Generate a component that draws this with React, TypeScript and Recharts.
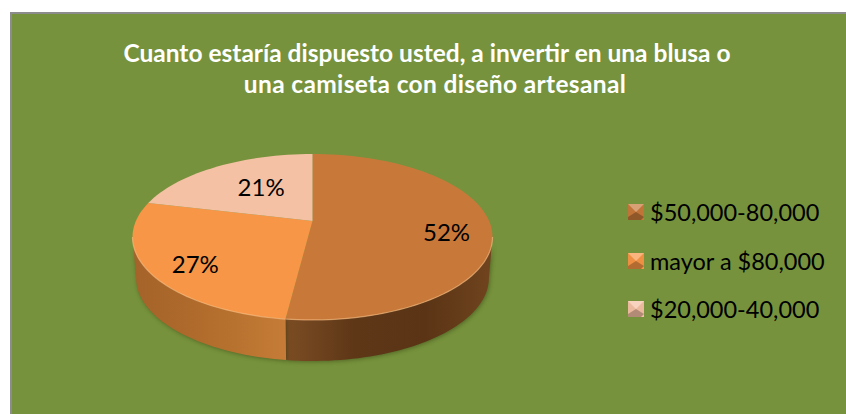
import { PieChart, Pie, Legend } from 'recharts';

const titleLines = [
  'Cuanto estaría dispuesto usted, a invertir en una blusa o',
  'una camiseta con diseño artesanal',
];
const categories = ['$50,000-80,000', 'mayor a $80,000', '$20,000-40,000'];
const seriesValues = [52, 27, 21];
const sliceColors = ['#C8793A', '#F79646', '#F5C1A4'];
const wallStops = [
  ['#70441E', '#5A3415', '#5E3717', '#7C4D24'],
  ['#C67C38', '#B8722F', '#AD692B', '#A5632A'],
  ['#D9A68A', '#D9A68A', '#D9A68A', '#D9A68A'],
];
// how far out from the pie's apex each percent label sits, and a small vertical nudge
const labelReach = [0.75, 0.72, 0.54];
const labelNudge = [6, 6, -5];

const pieData = categories.map((name, i) => ({
  name,
  value: seriesValues[i],
  fill: sliceColors[i],
}));

const FONT = 'Lato, "Open Sans", sans-serif';
const TILT = 0.461; // ellipse height / width of the 3D pie
const DEPTH = 41;
const APEX_SHIFT = 0.193; // apex sits above the ellipse centre because of the perspective
const MOBIUS = 0.09;

// moves an angle on the pie to where the perspective puts it on the rim
const warpAngle = (deg: number) => {
  const rad = (deg * Math.PI) / 180;
  const zx = Math.cos(rad);
  const zy = Math.sin(rad);
  const numer = Math.atan2(zy + MOBIUS, zx);
  const denom = Math.atan2(-MOBIUS * zx, 1 + MOBIUS * zy);
  let out = ((numer - denom) * 180) / Math.PI;
  while (out > deg + 180) out -= 360;
  while (out < deg - 180) out += 360;
  return out;
};

const rimPoint = (cx: number, cy: number, rx: number, ry: number, deg: number) => {
  const rad = (deg * Math.PI) / 180;
  return [cx + rx * Math.cos(rad), cy - ry * Math.sin(rad)];
};

const sweep = (from: number, to: number) => {
  const steps = Math.max(2, Math.ceil(Math.abs(to - from) / 2));
  return Array.from({ length: steps + 1 }, (_, i) => from + ((to - from) * i) / steps);
};

const toPath = (pts: number[][]) => pts.map((p) => `${p[0].toFixed(2)} ${p[1].toFixed(2)}`).join(' L ');

const Slice3D = (props: any) => {
  const { cx, cy, outerRadius, startAngle, endAngle, fill } = props;
  const idx = sliceColors.indexOf(fill);
  const ry = outerRadius * TILT;
  const from = warpAngle(startAngle);
  const to = warpAngle(endAngle);
  const apex = [cx, cy - ry * APEX_SHIFT];
  const top = sweep(from, to).map((a) => rimPoint(cx, cy, outerRadius, ry, a));

  // only the front half of the rim has a visible wall
  const wallFrom = Math.min(from, 0);
  const wallTo = Math.max(to, -180);
  const hasWall = wallFrom > wallTo;
  const upper = hasWall ? sweep(wallFrom, wallTo).map((a) => rimPoint(cx, cy, outerRadius, ry, a)) : [];
  const lower = hasWall
    ? sweep(wallTo, wallFrom).map((a) => rimPoint(cx, cy + DEPTH, outerRadius * 0.98, ry, a))
    : [];
  const gradId = `wall-${idx}`;

  return (
    <g>
      {hasWall && (
        <>
          <defs>
            <linearGradient id={gradId} x1="0" y1="0" x2="1" y2="0">
              {/* left to right along the wall */}
              {[...wallStops[idx]].reverse().map((c, i) => (
                <stop key={i} offset={i / 3} stopColor={c} />
              ))}
            </linearGradient>
          </defs>
          <path
            d={`M ${toPath(upper)} L ${toPath(lower)} Z`}
            fill={`url(#${gradId})`}
            style={{ filter: 'drop-shadow(1px 1px 2px rgba(40,50,10,0.45))' }}
          />
        </>
      )}
      <path d={`M ${toPath([apex, ...top])} Z`} fill={fill} />
      {hasWall && <path d={`M ${toPath(upper)}`} fill="none" stroke="#FFC08A" strokeOpacity={0.6} strokeWidth={1.2} />}
    </g>
  );
};

const renderPercent = (props: any) => {
  const { cx, cy, outerRadius, midAngle, percent, index } = props;
  const ry = outerRadius * TILT;
  const apex = [cx, cy - ry * APEX_SHIFT];
  const rim = rimPoint(cx, cy, outerRadius, ry, warpAngle(midAngle));
  const reach = labelReach[index];
  return (
    <text
      x={apex[0] + (rim[0] - apex[0]) * reach}
      y={apex[1] + (rim[1] - apex[1]) * reach + labelNudge[index]}
      textAnchor="middle"
      dominantBaseline="central"
      fontFamily={FONT}
      fontSize={24}
      fill="#000"
    >
      {`${Math.round(percent * 100)}%`}
    </text>
  );
};

const BevelIcon = ({ color }: { color: string }) => (
  <svg width={16} height={16} style={{ flex: 'none' }}>
    <rect width={16} height={16} fill={color} />
    <polygon points="0,0 16,0 8,8" fill="#fff" opacity={0.3} />
    <polygon points="3,16 13,16 16,13 8,8 0,13 0,16" fill="#000" opacity={0.28} />
    <polygon points="0,0 0,13 8,8" fill="#000" opacity={0.04} />
    <polygon points="16,0 16,13 8,8" fill="#000" opacity={0.04} />
  </svg>
);

const renderLegend = (props: any) => (
  <div>
    {(props.payload || []).map((item: any) => (
      <div
        key={item.value}
        style={{ display: 'flex', alignItems: 'center', height: 48.5, fontFamily: FONT, fontSize: 23.5, color: '#000', whiteSpace: 'nowrap' }}
      >
        <BevelIcon color={item.color} />
        <span style={{ marginLeft: 6 }}>{item.value}</span>
      </div>
    ))}
  </div>
);

export default function App() {
  return (
    <div style={{ position: 'absolute', left: 0, top: 0, width: 846, height: 414, background: '#fff', overflow: 'hidden' }}>
      <div
        style={{
          position: 'absolute',
          left: 10,
          top: 12,
          width: 836,
          height: 402,
          background: '#76923C',
          borderLeft: '2px solid #8C8C8C',
          borderTop: '2px solid #8C8C8C',
        }}
      />
      <div style={{ position: 'absolute', left: 0, top: 0 }}>
        <PieChart width={846} height={414} margin={{ top: 0, right: 0, bottom: 0, left: 0 }}>
          <Pie
            data={pieData}
            dataKey="value"
            nameKey="name"
            cx={312.5}
            cy={237}
            outerRadius={180}
            startAngle={90}
            endAngle={-270}
            stroke="none"
            shape={Slice3D}
            label={renderPercent}
            labelLine={false}
            isAnimationActive={false}
          />
          <Legend
            layout="vertical"
            content={renderLegend}
            itemSorter={null}
            wrapperStyle={{ left: 628, top: 188, width: 218 }}
          />
        </PieChart>
      </div>
      <div
        style={{
          position: 'absolute',
          left: 12,
          top: 37,
          width: 830,
          textAlign: 'center',
          fontFamily: FONT,
          fontWeight: 700,
          fontSize: 24.5,
          lineHeight: '31px',
          color: '#fff',
          whiteSpace: 'nowrap',
        }}
      >
        <div>{titleLines[0]}</div>
        <div style={{ marginLeft: 16, letterSpacing: 0.35 }}>{titleLines[1]}</div>
      </div>
    </div>
  );
}
